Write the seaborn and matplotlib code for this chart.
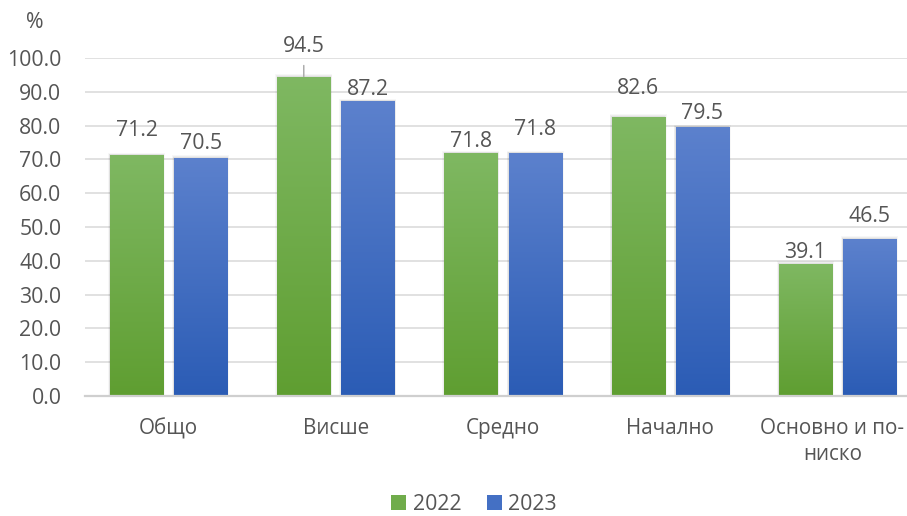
import numpy as np
import pandas as pd
import matplotlib
matplotlib.use("Agg")
import matplotlib.pyplot as plt
import matplotlib.transforms as mtransforms
import seaborn as sns
from matplotlib.colors import LinearSegmentedColormap
from matplotlib.patches import Patch

categories = ["Общо", "Висше", "Средно", "Начално", "Основно и по-\nниско"]
years = ["2022", "2023"]
values_2022 = [71.2, 94.5, 71.8, 82.6, 39.1]
values_2023 = [70.5, 87.2, 71.8, 79.5, 46.5]
yticks = [0, 10, 20, 30, 40, 50, 60, 70, 80, 90, 100]
# label vertical offsets above bar tops (data units), as placed in the reference
label_off_2022 = [7.4, 9.0, 3.6, 8.3, 3.3]
label_off_2023 = [4.1, 3.6, 7.1, 4.1, 6.5]

sns.set_theme(style="white")
plt.rcParams["font.family"] = ["Open Sans", "DejaVu Sans"]
TXT = "#555555"
FS = 15.3

df = pd.DataFrame({
    "cat": categories * 2,
    "year": [years[0]] * 5 + [years[1]] * 5,
    "val": values_2022 + values_2023,
})

grad = {
    "2022": ("#7fb862", "#5f9e31"),
    "2023": ("#5c81cd", "#2b5cb5"),
}
mid = {"2022": "#70ac4b", "2023": "#4470c4"}

fig = plt.figure(figsize=(9.07, 5.16), dpi=100)
ax = fig.add_axes([85 / 907, 120 / 516, (921 - 85) / 907, 338 / 516])

sns.barplot(data=df, x="cat", y="val", hue="year", order=categories,
            hue_order=years, palette=mid, width=0.766, gap=0.172,
            ax=ax, legend=False, saturation=1, linewidth=0)

ax.set_ylim(0, 100)
ax.set_xlim(-0.5, 4.5)
ax.set_yticks(yticks)
ax.set_yticklabels([f"{v:.1f}" for v in yticks], color=TXT, fontsize=FS)
ax.yaxis.grid(True, color="#d9d9d9", linewidth=1.1)
ax.set_axisbelow(True)
for s in ["top", "right", "left"]:
    ax.spines[s].set_visible(False)
ax.spines["bottom"].set_color("#cfcfcf")
ax.spines["bottom"].set_linewidth(1.6)
ax.tick_params(axis="y", length=0, pad=17)
ax.tick_params(axis="x", length=0, pad=16, labelsize=14.9, labelcolor=TXT)
ax.set_xlabel("")
ax.set_ylabel("")
xl = ax.get_xticklabels()
for lab in xl:
    lab.set_linespacing(1.3)
xl[-1].set_transform(xl[-1].get_transform() +
                     mtransforms.ScaledTranslation(-5 / 100, 0, fig.dpi_scale_trans))

# gradient fills
patches = [p for p in ax.patches if p.get_height() > 0]
n = len(categories)
for i, p in enumerate(patches):
    yr = years[i // n]
    cmap = LinearSegmentedColormap.from_list("g", [grad[yr][1], grad[yr][0]])
    x0, w, h = p.get_x(), p.get_width(), p.get_height()
    img = np.linspace(0, 1, 256).reshape(-1, 1)
    im = ax.imshow(img, cmap=cmap, origin="lower", aspect="auto",
                   extent=[x0, x0 + w, 0, h], zorder=p.get_zorder() + 0.1)
    im.set_clip_path(p)
    # soft shadow
    for k, a in enumerate([0.05, 0.04, 0.03]):
        ax.add_patch(plt.Rectangle((x0 - 0.004 * (k + 1), 0), w + 0.008 * (k + 1),
                                   h + 0.25 * (k + 1), color="black", alpha=a,
                                   lw=0, zorder=p.get_zorder() - 0.1))
ax.set_xlim(-0.5, 4.5)
ax.set_ylim(0, 100)

# data labels
allvals = [values_2022, values_2023]
alloffs = [label_off_2022, label_off_2023]
for i, p in enumerate(patches):
    s, c = divmod(i, n)
    v = allvals[s][c]
    off = alloffs[s][c]
    xc = p.get_x() + p.get_width() / 2
    if off > 8.5:
        ax.annotate(f"{v:.1f}", xy=(xc, v), xytext=(xc, v + off),
                    ha="center", va="center", fontsize=FS, color=TXT,
                    annotation_clip=False,
                    arrowprops=dict(arrowstyle="-", color="#a6a6a6", lw=1,
                                    shrinkA=4, shrinkB=0))
    else:
        ax.text(xc, v + off, f"{v:.1f}", ha="center", va="center",
                fontsize=FS, color=TXT, clip_on=False)

fig.text(35 / 907, 1 - 22 / 516, "%", ha="center", va="center",
         fontsize=FS, color=TXT)

handles = [Patch(facecolor=mid[y], edgecolor="none", label=y) for y in years]
fig.legend(handles=handles, loc="center", bbox_to_anchor=(474 / 907, 12 / 516),
           ncol=2, frameon=False, fontsize=FS, labelcolor=TXT,
           handlelength=0.7, handleheight=0.7, handletextpad=0.3,
           columnspacing=1.2, borderpad=0.2)

fig.savefig("out.png", dpi=100)
